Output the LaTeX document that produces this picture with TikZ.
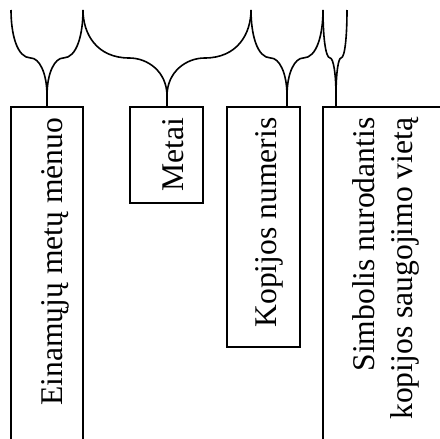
\documentclass[tikz,border=0pt]{standalone}
\usepackage{fontspec}
\setmainfont{Liberation Serif}
\newfontfamily\fieldfont{Liberation Serif}
\begin{document}
\begin{tikzpicture}[x=1pt,y=-1pt,
  frame/.style={line width=1.6pt,line join=miter},
  brace/.style={line width=1.6pt},
  vlabel/.style={rotate=90,anchor=base east,inner sep=0pt,
    font=\fieldfont\fontsize{31.6}{36}\selectfont}]
\useasboundingbox (0,0) rectangle (440,439);

% half of a curly brace: #1 = x of the upper end, #2 = x of the tip
\newcommand\halfbrace[2]{%
  \pgfmathsetmacro\sh{#1+0.55*(#2-#1)}%
  \draw[brace] (#1,10) .. controls (#1,34) and ({#1+0.3*(\sh-#1)},58) .. (\sh,58)
    .. controls ({\sh+0.5*(#2-\sh)},58) and (#2,72) .. (#2,96) -- (#2,107);}

% field boxes
\draw[frame] (11,439) -- (11,107) -- (83,107) -- (83,439);
\draw[frame] (130,107) rectangle (203,203);
\draw[frame] (227,107) rectangle (300,347);
\draw[frame] (440,107) -- (323,107) -- (323,439);

% braces over the fields
\halfbrace{11}{47}  \halfbrace{83}{47}
\halfbrace{83}{167} \halfbrace{251}{167}
\halfbrace{251}{287} \halfbrace{323}{287}
\halfbrace{323}{336} \halfbrace{347}{336}

% field names
\node[vlabel] (month) at (62,117.5) {Einamųjų metų mėnuo};
\node[vlabel] (year) at (183,117.5) {Metai};
\node[vlabel] (copy) at (276,117.5) {Kopijos numeris};
\node[vlabel] (place1) at (374,117.5) {Simbolis nurodantis};
\node[vlabel] (place2) at (412,117.5) {kopijos saugojimo vietą};
\end{tikzpicture}
\end{document}
